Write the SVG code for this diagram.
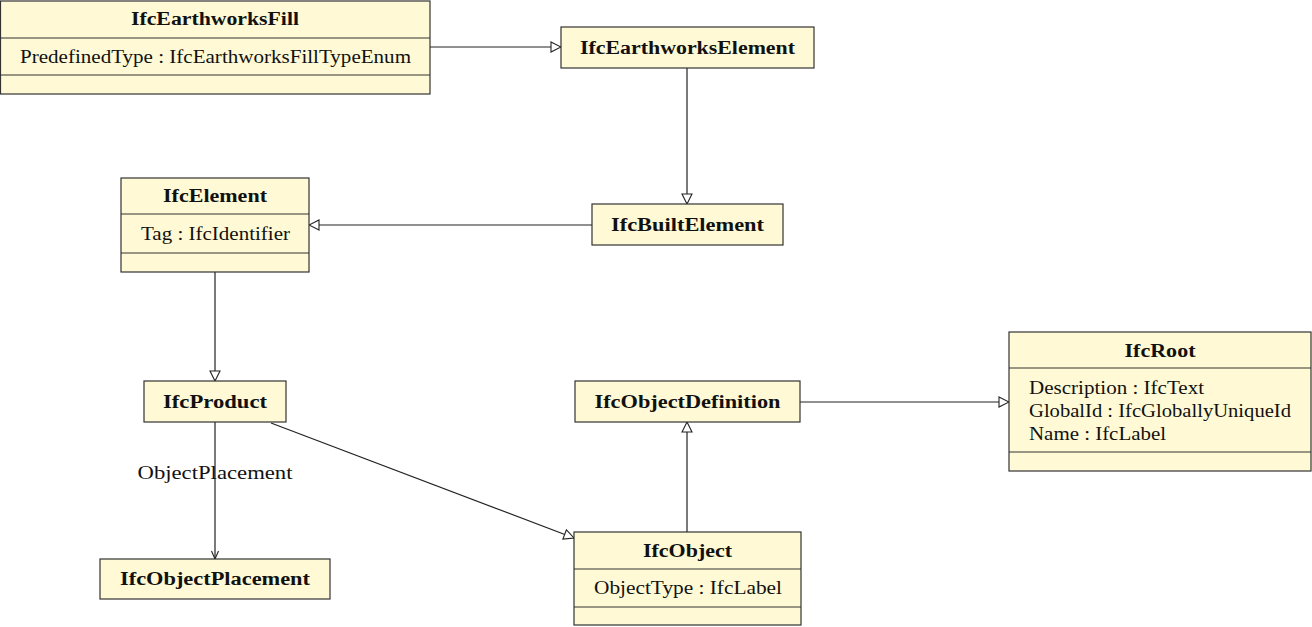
<svg xmlns="http://www.w3.org/2000/svg" width="1312" height="627" viewBox="0 0 1312 627">
  <style>
    .box { fill: #fffad5; stroke: #333; stroke-width: 1.2; }
    .sep { stroke: #333; stroke-width: 1.2; }
    .title { font-family: "Liberation Serif", serif; font-weight: bold; font-size: 18px; fill: #111; text-anchor: middle; }
    .attr { font-family: "Liberation Serif", serif; font-size: 18px; fill: #111; }
    .lbl { font-family: "Liberation Serif", serif; font-size: 19px; fill: #111; text-anchor: middle; }
    .edge { fill: none; stroke: #222; stroke-width: 1.2; }
  </style>
  <defs>
    <marker id="tri" viewBox="0 0 12 12" refX="11" refY="6" markerWidth="12" markerHeight="12" markerUnits="userSpaceOnUse" orient="auto">
      <path d="M1,1 L11,6 L1,11 Z" fill="#fff" stroke="#222" stroke-width="1.1"/>
    </marker>
    <marker id="open" viewBox="0 0 10 10" refX="9" refY="5" markerWidth="10" markerHeight="10" markerUnits="userSpaceOnUse" orient="auto">
      <path d="M1,1.5 L9,5 L1,8.5" fill="none" stroke="#222" stroke-width="1.1"/>
    </marker>
  </defs>

  <g id="connectors">
    <path class="edge" d="M430,47 H561" marker-end="url(#tri)"/>
    <path class="edge" d="M687,68 V204" marker-end="url(#tri)"/>
    <path class="edge" d="M592,225 H309" marker-end="url(#tri)"/>
    <path class="edge" d="M215,272 V381" marker-end="url(#tri)"/>
    <path class="edge" d="M215,422 V559" marker-end="url(#open)"/>
    <path class="edge" d="M271,423 L574,538" marker-end="url(#tri)"/>
    <path class="edge" d="M687,532 V422" marker-end="url(#tri)"/>
    <path class="edge" d="M800,402 H1009" marker-end="url(#tri)"/>
    <text class="lbl" x="215" y="479" textLength="155" lengthAdjust="spacingAndGlyphs">ObjectPlacement</text>
  </g>

  <g id="IfcEarthworksFill">
    <rect class="box" x="0.5" y="1" width="429.5" height="93"/>
    <line class="sep" x1="0.5" y1="38" x2="430" y2="38"/>
    <line class="sep" x1="0.5" y1="75" x2="430" y2="75"/>
    <text class="title" x="215" y="25" textLength="168" lengthAdjust="spacingAndGlyphs">IfcEarthworksFill</text>
    <text class="attr" x="20" y="63" textLength="391" lengthAdjust="spacingAndGlyphs">PredefinedType : IfcEarthworksFillTypeEnum</text>
  </g>

  <g id="IfcEarthworksElement">
    <rect class="box" x="561" y="27" width="253" height="41"/>
    <text class="title" x="687.5" y="54" textLength="215" lengthAdjust="spacingAndGlyphs">IfcEarthworksElement</text>
  </g>

  <g id="IfcElement">
    <rect class="box" x="121" y="178" width="188" height="94"/>
    <line class="sep" x1="121" y1="214" x2="309" y2="214"/>
    <line class="sep" x1="121" y1="253" x2="309" y2="253"/>
    <text class="title" x="215" y="202" textLength="104" lengthAdjust="spacingAndGlyphs">IfcElement</text>
    <text class="attr" x="141" y="240" textLength="149" lengthAdjust="spacingAndGlyphs">Tag : IfcIdentifier</text>
  </g>

  <g id="IfcBuiltElement">
    <rect class="box" x="592" y="204" width="191" height="41"/>
    <text class="title" x="687.5" y="231" textLength="153" lengthAdjust="spacingAndGlyphs">IfcBuiltElement</text>
  </g>

  <g id="IfcProduct">
    <rect class="box" x="144" y="381" width="142" height="41"/>
    <text class="title" x="215" y="408" textLength="104" lengthAdjust="spacingAndGlyphs">IfcProduct</text>
  </g>

  <g id="IfcObjectPlacement">
    <rect class="box" x="100" y="559" width="230" height="40"/>
    <text class="title" x="215" y="585" textLength="190" lengthAdjust="spacingAndGlyphs">IfcObjectPlacement</text>
  </g>

  <g id="IfcObjectDefinition">
    <rect class="box" x="575" y="381" width="225" height="41"/>
    <text class="title" x="687.5" y="408" textLength="186" lengthAdjust="spacingAndGlyphs">IfcObjectDefinition</text>
  </g>

  <g id="IfcObject">
    <rect class="box" x="574" y="532" width="227" height="93"/>
    <line class="sep" x1="574" y1="569" x2="801" y2="569"/>
    <line class="sep" x1="574" y1="607" x2="801" y2="607"/>
    <text class="title" x="687.5" y="557" textLength="89" lengthAdjust="spacingAndGlyphs">IfcObject</text>
    <text class="attr" x="594" y="594" textLength="188" lengthAdjust="spacingAndGlyphs">ObjectType : IfcLabel</text>
  </g>

  <g id="IfcRoot">
    <rect class="box" x="1009" y="332" width="302" height="139"/>
    <line class="sep" x1="1009" y1="368" x2="1311" y2="368"/>
    <line class="sep" x1="1009" y1="452" x2="1311" y2="452"/>
    <text class="title" x="1160" y="357" textLength="71" lengthAdjust="spacingAndGlyphs">IfcRoot</text>
    <text class="attr" x="1029" y="394" textLength="175" lengthAdjust="spacingAndGlyphs">Description : IfcText</text>
    <text class="attr" x="1029" y="417" textLength="262" lengthAdjust="spacingAndGlyphs">GlobalId : IfcGloballyUniqueId</text>
    <text class="attr" x="1029" y="440" textLength="137" lengthAdjust="spacingAndGlyphs">Name : IfcLabel</text>
  </g>
</svg>
